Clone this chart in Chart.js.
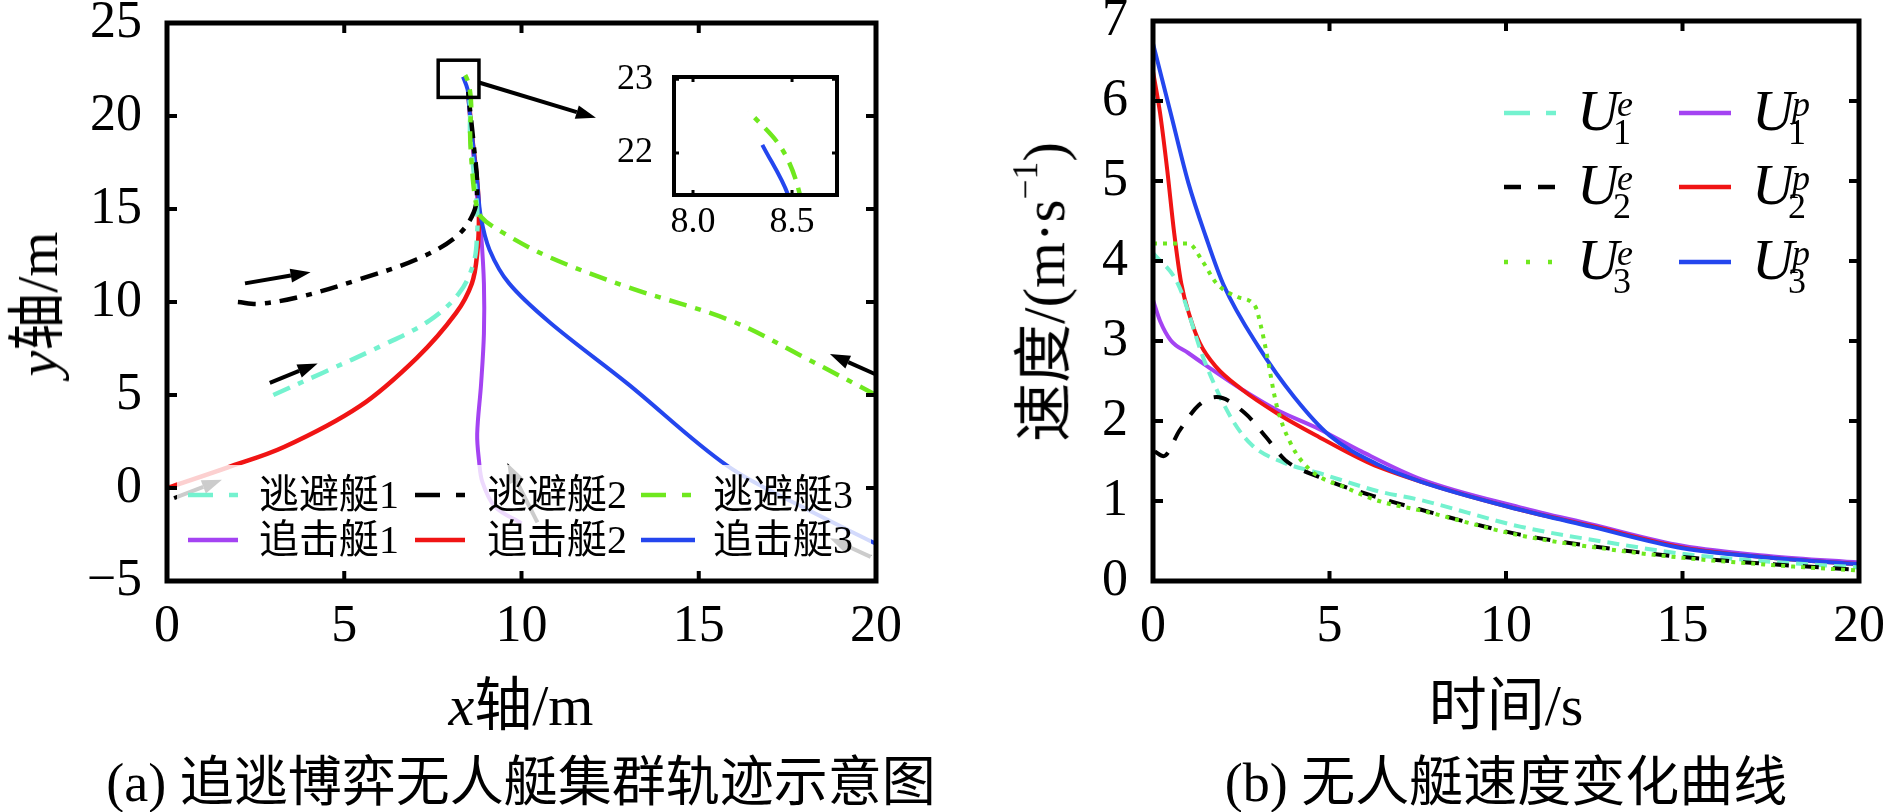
<!DOCTYPE html>
<html>
<head>
<meta charset="utf-8">
<script src="https://cdn.jsdelivr.net/npm/chart.js@4.4.1/dist/chart.umd.min.js"></script>
<style>
  body { margin: 0; width: 1890px; height: 812px; background: #fff; position: relative; overflow: hidden; }
  canvas { position: absolute; }
  .t { position: absolute; font-family: "Liberation Serif", "Noto Sans CJK SC", serif; white-space: nowrap;
       line-height: 1; color: #000; transform: translate(-50%, -50%); }
  .rot { transform: translate(-50%, -50%) rotate(-90deg); }
  .t sup { font-size: 0.6em; vertical-align: 0.75em; }
</style>
</head>
<body>
<canvas id="trajChart" width="960" height="812" style="left:0;top:0"></canvas>
<canvas id="insetChart" width="260" height="200" style="left:600px;top:50px"></canvas>
<canvas id="speedChart" width="930" height="812" style="left:960px;top:0"></canvas>

<div class="t rot" style="left:38px;top:304px;font-size:58px"><i>y</i>轴/m</div>
<div class="t" style="left:521px;top:706px;font-size:58px"><i>x</i>轴/m</div>
<div class="t" style="left:521px;top:783px;font-size:54px">(a) 追逃博弈无人艇集群轨迹示意图</div>

<div class="t rot" style="left:1041px;top:292px;font-size:59px">速度/(m·s<sup>−1</sup>)</div>
<div class="t" style="left:1506px;top:706px;font-size:58px">时间/s</div>
<div class="t" style="left:1506px;top:783px;font-size:54px">(b) 无人艇速度变化曲线</div>

<script>
// ---------- (a) 轨迹 ----------
const xTicksA = [0, 5, 10, 15, 20];
const yTicksA = [-5, 0, 5, 10, 15, 20, 25];
const insetXTicks = [8.0, 8.5];
const insetYTicks = [22, 23];
const namesA = ['逃避艇1', '逃避艇2', '逃避艇3', '追击艇1', '追击艇2', '追击艇3'];

// [x, y] 轨迹点
const evader1 = [[3.0,5.0],[4.4,6.2],[6.0,7.6],[7.4,9.0],[8.25,10.5],[8.65,12.1],[8.75,13.7],[8.75,15.0],[8.65,17.0],[8.55,19.0],[8.55,20.5],[8.5,21.3]];
const evader2 = [[2.0,10.0],[2.6,9.9],[3.8,10.3],[5.4,11.2],[7.05,12.3],[8.15,13.5],[8.65,14.8],[8.75,16.2],[8.65,18.5],[8.55,20.3],[8.5,21.3]];
const evader3 = [[20.0,5.0],[18.0,7.0],[15.9,9.0],[13.0,10.8],[10.8,12.4],[9.5,13.7],[8.85,14.6],[8.7,15.5],[8.6,17.3],[8.55,19.1],[8.58,20.6],[8.54,21.43],[8.45,22.05],[8.28,22.57]];
const pursuer1 = [[10.0,-1.9],[9.25,-1.0],[8.9,0.3],[8.8,1.5],[8.75,2.9],[8.86,5.6],[8.94,8.3],[8.94,11.0],[8.86,13.7],[8.8,14.8],[8.7,16.5],[8.6,19.0],[8.5,21.2]];
const pursuer2 = [[0.0,0.0],[1.7,1.1],[3.3,2.2],[5.44,4.4],[7.05,7.0],[8.15,9.4],[8.6,11.0],[8.75,12.6],[8.8,14.6],[8.75,16.5],[8.6,19.0],[8.5,21.2]];
const pursuer3 = [[20.0,-3.0],[17.9,-1.0],[15.8,1.2],[13.0,5.6],[10.8,8.9],[9.65,11.0],[9.1,12.8],[8.85,14.6],[8.75,16.5],[8.6,19.0],[8.5,21.0],[8.48,21.43],[8.35,22.11]];

// 箭头 [x1, y1, x2, y2]
const arrowsA = [[2.2,11.0,4.05,11.6],[2.9,5.65,4.25,6.7],[20.0,6.1,18.7,7.2],[8.8,21.8,12.1,19.9],
                 [0.2,-0.55,1.55,0.45],[10.45,-1.85,9.6,1.35],[19.85,-3.7,18.7,-2.7]];
const zoomBox = [7.65, 21.0, 8.8, 23.0];

// ---------- (b) 速度 ----------
const xTicksB = [0, 5, 10, 15, 20];
const yTicksB = [0, 1, 2, 3, 4, 5, 6, 7];
const u1e = [[0,4.1],[0.7,3.72],[1.45,2.76],[2.2,2.05],[2.8,1.7],[3.7,1.48],[4.7,1.35],[6.4,1.12],[7.6,1.01],[10.4,0.68],[13.2,0.46],[15,0.34],[17.5,0.24],[20,0.17]];
const u2e = [[0.05,1.62],[0.3,1.56],[0.75,1.88],[1.3,2.2],[1.8,2.3],[2.6,2.1],[3.2,1.8],[3.75,1.51],[4.7,1.3],[6.4,1.04],[7.6,0.89],[10.4,0.58],[13.2,0.39],[15,0.3],[17.5,0.21],[20,0.14]];
const u3e = [[0,4.22],[1.0,4.22],[1.4,4.0],[1.8,3.72],[2.4,3.55],[2.9,3.43],[3.05,3.2],[3.2,2.89],[3.5,2.2],[3.9,1.72],[4.45,1.39],[5.5,1.16],[6.4,1.0],[7.6,0.88],[10.4,0.57],[13.2,0.38],[15,0.29],[17.5,0.2],[20,0.13]];
const u1p = [[0,3.51],[0.2,3.25],[0.5,3.01],[1.0,2.85],[1.55,2.68],[2.5,2.4],[3.5,2.14],[4.7,1.9],[5.9,1.62],[7.6,1.27],[10.4,0.92],[12.4,0.71],[15,0.44],[17.5,0.31],[20,0.23]];
const u2p = [[0,6.37],[0.2,5.85],[0.4,5.15],[0.6,4.35],[0.8,3.72],[1.05,3.3],[1.33,2.97],[1.78,2.68],[2.5,2.4],[3.5,2.1],[4.7,1.8],[6.15,1.47],[7.6,1.24],[10.4,0.89],[12.4,0.69],[15,0.42],[17.5,0.29],[20,0.21]];
const u3p = [[0,6.72],[0.5,5.85],[1.0,4.98],[1.5,4.3],[2.0,3.7],[3.0,2.92],[4.0,2.3],[5.0,1.82],[6.4,1.45],[7.6,1.24],[10.4,0.89],[12.4,0.68],[15,0.41],[17.5,0.29],[20,0.21]];

const pts = arr => arr.map(p => ({ x: p[0], y: p[1] }));
const minus = v => (v < 0 ? '\u2212' + Math.abs(v) : String(v));

const cCyan = '#74F2CF', cBlack = '#000000', cGreen = '#6FE81E';
const cPurple = '#A443F2', cRed = '#F01414', cBlue = '#2446EE';
const dashDot = [18, 9, 6, 9];

// 边框 + 向内刻度
const frameTicks = {
  id: 'frameTicks',
  beforeDraw(chart, args, o) {
    if (!o.bg) return;
    const a = chart.chartArea;
    chart.ctx.save();
    chart.ctx.fillStyle = '#fff';
    chart.ctx.fillRect(a.left, a.top, a.right - a.left, a.bottom - a.top);
    chart.ctx.restore();
  },
  afterDraw(chart, args, o) {
    const { ctx, chartArea: a } = chart;
    const xs = chart.scales.x, ys = chart.scales.y;
    ctx.save();
    ctx.strokeStyle = '#000';
    ctx.lineWidth = o.tickWidth;
    ctx.beginPath();
    xs.ticks.forEach(t => {
      const p = xs.getPixelForValue(t.value);
      if (p <= a.left + 2 || p >= a.right - 2) return;
      ctx.moveTo(p, a.bottom); ctx.lineTo(p, a.bottom - o.len);
      ctx.moveTo(p, a.top); ctx.lineTo(p, a.top + o.len);
    });
    ys.ticks.forEach(t => {
      const p = ys.getPixelForValue(t.value);
      if (p <= a.top + 1 || p >= a.bottom - 2) return;
      ctx.moveTo(a.left, p); ctx.lineTo(a.left + o.len, p);
      ctx.moveTo(a.right, p); ctx.lineTo(a.right - o.len, p);
    });
    ctx.stroke();
    ctx.lineWidth = o.frameWidth;
    ctx.strokeRect(a.left, a.top, a.right - a.left, a.bottom - a.top);
    ctx.restore();
  }
};

function drawArrow(ctx, x1, y1, x2, y2) {
  const ang = Math.atan2(y2 - y1, x2 - x1), head = 20, half = 7;
  const bx = x2 - head * Math.cos(ang), by = y2 - head * Math.sin(ang);
  ctx.beginPath(); ctx.moveTo(x1, y1); ctx.lineTo(bx, by); ctx.stroke();
  ctx.beginPath(); ctx.moveTo(x2, y2);
  ctx.lineTo(bx + half * Math.sin(ang), by - half * Math.cos(ang));
  ctx.lineTo(bx - half * Math.sin(ang), by + half * Math.cos(ang));
  ctx.closePath(); ctx.fill();
}

// 箭头、放大框、图例
const trajExtras = {
  id: 'trajExtras',
  afterDatasetsDraw(chart) {
    const { ctx } = chart;
    const xs = chart.scales.x, ys = chart.scales.y;
    ctx.save();
    ctx.strokeStyle = '#000'; ctx.fillStyle = '#000'; ctx.lineWidth = 4;
    arrowsA.forEach(r => drawArrow(ctx, xs.getPixelForValue(r[0]), ys.getPixelForValue(r[1]),
                                        xs.getPixelForValue(r[2]), ys.getPixelForValue(r[3])));
    ctx.lineWidth = 3.5;
    const bx1 = xs.getPixelForValue(zoomBox[0]), by1 = ys.getPixelForValue(zoomBox[3]);
    const bx2 = xs.getPixelForValue(zoomBox[2]), by2 = ys.getPixelForValue(zoomBox[1]);
    ctx.strokeRect(bx1, by1, bx2 - bx1, by2 - by1);

    // 图例底色(半透明)
    ctx.fillStyle = 'rgba(255,255,255,0.8)';
    ctx.fillRect(177, 465, 694, 104);
    const rows = [495, 540];
    const cols = [[188, 238, 259], [415, 465, 487], [641, 695, 713]];
    const colors = [cCyan, cBlack, cGreen, cPurple, cRed, cBlue];
    ctx.font = '40px "Liberation Serif", "Noto Sans CJK SC"';
    ctx.textBaseline = 'middle';
    namesA.forEach((name, i) => {
      const r = rows[Math.floor(i / 3)], c = cols[i % 3];
      ctx.strokeStyle = colors[i];
      ctx.setLineDash(i < 3 ? [25, 16, 9, 16] : []);
      ctx.lineWidth = 4.5;
      ctx.beginPath(); ctx.moveTo(c[0], r); ctx.lineTo(c[1], r); ctx.stroke();
      ctx.setLineDash([]);
      ctx.fillStyle = '#000';
      ctx.fillText(name, c[2], r + 2);
    });
    ctx.restore();
  }
};

function lineSet(arr, color, dash, order, width) {
  return { data: pts(arr), borderColor: color, borderDash: dash, borderWidth: width, order: order,
           showLine: true, pointRadius: 0, tension: 0.35, fill: false };
}

const trajSets = () => [
  lineSet(evader3, cGreen, dashDot, 0, 4.5),
  lineSet(evader2, cBlack, dashDot, 1, 4.5),
  lineSet(evader1, cCyan, dashDot, 2, 4.5),
  lineSet(pursuer3, cBlue, [], 3, 4),
  lineSet(pursuer2, cRed, [], 4, 4.5),
  lineSet(pursuer1, cPurple, [], 5, 4)
];

function axis(min, max, tickVals, fit, size, pad, fmt) {
  return {
    type: 'linear', min: min, max: max,
    afterBuildTicks: s => { s.ticks = tickVals.map(v => ({ value: v })); },
    afterFit: s => {
      fit(s);
      s.paddingTop = 0; s.paddingBottom = 0; s.paddingLeft = 0; s.paddingRight = 0;
    },
    grid: { display: false, drawTicks: false },
    border: { display: false },
    ticks: { color: '#000', padding: pad, font: { family: 'Liberation Serif', size: size },
             callback: fmt || (v => minus(v)) }
  };
}

Chart.defaults.animation = false;

new Chart(document.getElementById('trajChart'), {
  type: 'scatter',
  data: { datasets: trajSets() },
  options: {
    responsive: false,
    layout: { padding: { left: 0, top: 23, right: 84, bottom: 0 } },
    scales: {
      x: axis(0, 20, xTicksA, s => { s.height = 231; }, 52, 15),
      y: axis(-5, 25, yTicksA, s => { s.width = 167; }, 52, 25)
    },
    plugins: { legend: { display: false }, tooltip: { enabled: false },
               frameTicks: { len: 10, tickWidth: 4, frameWidth: 5 } }
  },
  plugins: [trajExtras, frameTicks]
});

new Chart(document.getElementById('insetChart'), {
  type: 'scatter',
  data: { datasets: trajSets() },
  options: {
    responsive: false,
    layout: { padding: { left: 0, top: 27, right: 23, bottom: 0 } },
    scales: {
      x: axis(7.904, 8.727, insetXTicks, s => { s.height = 55; }, 36, 6, v => v.toFixed(1)),
      y: axis(21.43, 23.03, insetYTicks, s => { s.width = 74; }, 36, 21)
    },
    plugins: { legend: { display: false }, tooltip: { enabled: false },
               frameTicks: { len: 5, tickWidth: 3, frameWidth: 4, bg: true } }
  },
  plugins: [frameTicks]
});

// ---------- (b) ----------
const speedLegend = {
  id: 'speedLegend',
  afterDatasetsDraw(chart) {
    const ctx = chart.ctx;
    const rows = [113, 187, 262];
    const items = [
      [544, cCyan, [26, 16], '1', 'e'], [544, cBlack, [17, 17], '2', 'e'], [544, cGreen, [4, 18], '3', 'e'],
      [719, cPurple, [], '1', 'p'], [719, cRed, [], '2', 'p'], [719, cBlue, [], '3', 'p']
    ];
    ctx.save();
    ctx.textBaseline = 'alphabetic';
    items.forEach((it, i) => {
      const r = rows[i % 3], x0 = it[0];
      ctx.strokeStyle = it[1]; ctx.setLineDash(it[2]); ctx.lineWidth = 4.5;
      ctx.beginPath(); ctx.moveTo(x0, r); ctx.lineTo(x0 + 52, r); ctx.stroke();
      ctx.setLineDash([]);
      ctx.fillStyle = '#000';
      const tx = x0 + 73;
      ctx.font = 'italic 58px "Liberation Serif"';
      ctx.fillText('U', tx, r + 17);
      const w = ctx.measureText('U').width;
      ctx.font = 'italic 36px "Liberation Serif"';
      ctx.fillText(it[4], tx + w - 2, r + 3);
      ctx.font = '36px "Liberation Serif"';
      ctx.fillText(it[3], tx + w - 6, r + 31);
    });
    ctx.restore();
  }
};

function speedSet(arr, color, dash, order) {
  return { data: pts(arr), borderColor: color, borderDash: dash, borderWidth: 4, order: order,
           showLine: true, pointRadius: 0, cubicInterpolationMode: 'monotone', fill: false };
}

new Chart(document.getElementById('speedChart'), {
  type: 'scatter',
  data: { datasets: [
    speedSet(u3e, cGreen, [4, 6], 0),
    speedSet(u2e, cBlack, [16, 14], 1),
    speedSet(u1e, cCyan, [12, 7], 2),
    speedSet(u3p, cBlue, [], 3),
    speedSet(u2p, cRed, [], 4),
    speedSet(u1p, cPurple, [], 5)
  ] },
  options: {
    responsive: false,
    layout: { padding: { left: 0, top: 21, right: 31, bottom: 0 } },
    scales: {
      x: axis(0, 20, xTicksB, s => { s.height = 231; }, 52, 15),
      y: axis(0, 7, yTicksB, s => { s.width = 193; }, 52, 25)
    },
    plugins: { legend: { display: false }, tooltip: { enabled: false },
               frameTicks: { len: 10, tickWidth: 4, frameWidth: 5 } }
  },
  plugins: [speedLegend, frameTicks]
});
</script>
</body>
</html>
